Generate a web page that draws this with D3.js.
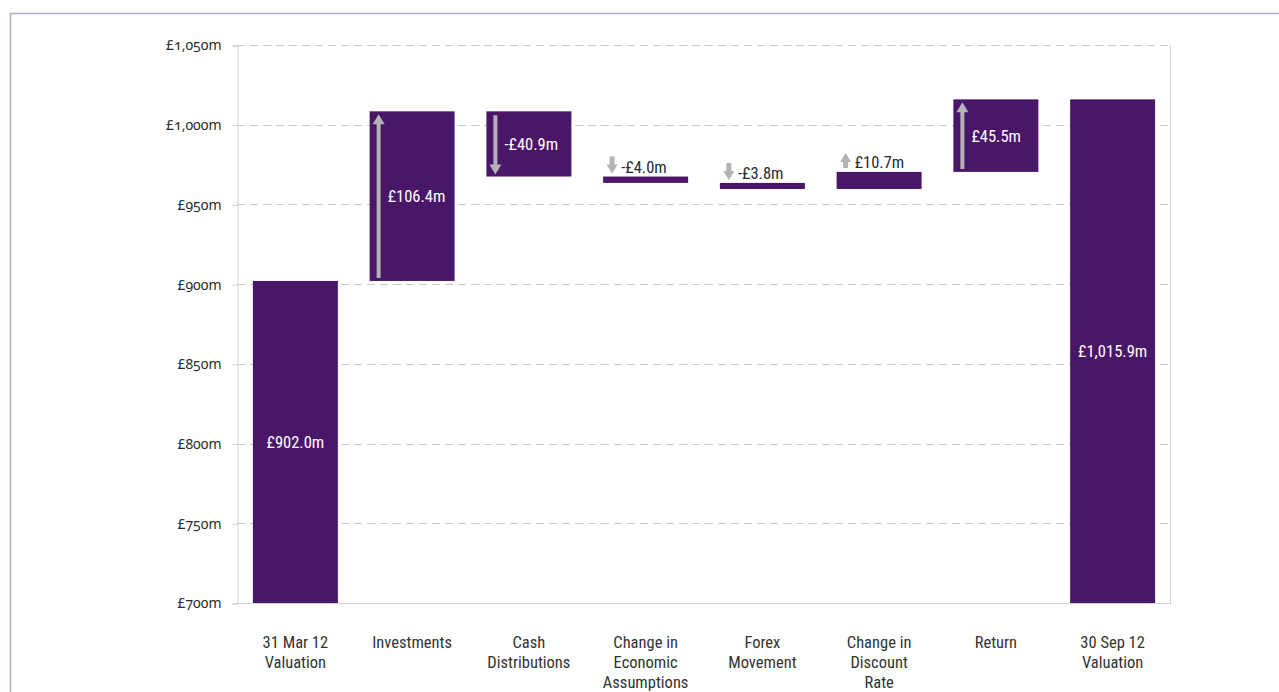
<!DOCTYPE html>
<html>
<head>
<meta charset="utf-8">
<script src="https://cdn.jsdelivr.net/npm/d3@7/dist/d3.min.js"></script>
<style>
  html, body { margin: 0; padding: 0; background: #fff; }
  svg { display: block; }
  .tick-label { font-family: "Noto Sans", sans-serif; font-size: 14px; fill: #2b2b2b; font-feature-settings: "onum" 1; }
  .cat-label { font-family: "Roboto Condensed", "Noto Sans", sans-serif; font-size: 16.5px; fill: #333; }
  .val-label { font-family: "Roboto Condensed", "Noto Sans", sans-serif; font-size: 16.5px; }
</style>
</head>
<body>
<script>
// Portfolio valuation bridge, 31 Mar 12 to 30 Sep 12 (£m)
const categories = [
  ["31 Mar 12", "Valuation"],
  ["Investments"],
  ["Cash", "Distributions"],
  ["Change in", "Economic", "Assumptions"],
  ["Forex", "Movement"],
  ["Change in", "Discount", "Rate"],
  ["Return"],
  ["30 Sep 12", "Valuation"]
];
const barTypes = ["total", "delta", "delta", "delta", "delta", "delta", "delta", "total"];
const values = [902.0, 106.4, -40.9, -4.0, -3.8, 10.7, 45.5, 1015.9];
const yTicks = [700, 750, 800, 850, 900, 950, 1000, 1050];

const W = 1279, H = 692;
const margin = { left: 237, right: 108, top: 45, bottom: 89 };
const purple = "#4a1768";
const arrowGrey = "#b3b3b5";

const svg = d3.select("body").append("svg").attr("width", W).attr("height", H);

// outer frame (top and left edges)
svg.append("line").attr("x1", 10).attr("x2", W).attr("y1", 13.5).attr("y2", 13.5)
  .attr("stroke", "#b5a6ca").attr("stroke-width", 1.5);
svg.append("line").attr("x1", 10.5).attr("x2", 10.5).attr("y1", 13).attr("y2", H)
  .attr("stroke", "#b5a6ca").attr("stroke-width", 1.5);

const x = d3.scaleBand()
  .domain(d3.range(categories.length))
  .range([margin.left, W - margin.right])
  .paddingInner(0.272).paddingOuter(0.136);

const y = d3.scaleLinear()
  .domain([yTicks[0], yTicks[yTicks.length - 1]])
  .range([H - margin.bottom, margin.top]);

const x0 = margin.left, x1 = W - margin.right;
const yb = y(yTicks[0]), yt = y(yTicks[yTicks.length - 1]);

// dashed gridlines
svg.append("g").selectAll("line").data(yTicks.slice(1)).join("line")
  .attr("x1", x0).attr("x2", x1)
  .attr("y1", d => Math.round(y(d)) + 0.5).attr("y2", d => Math.round(y(d)) + 0.5)
  .attr("stroke", "#c8c8c8").attr("stroke-dasharray", "8,5");

// y axis
const yAxis = d3.axisLeft(y).tickValues(yTicks).tickSize(5).tickPadding(11)
  .tickFormat(d => "£" + d3.format(",")(d) + "m");
const gy = svg.append("g").attr("transform", `translate(${x0 + 0.5},0.5)`).call(yAxis);
gy.select(".domain").attr("stroke", "#cfcfcf");
gy.selectAll(".tick line").attr("stroke", "#cfcfcf");
gy.selectAll(".tick text").attr("class", "tick-label").attr("fill", null);

// right and bottom frame of the plot
svg.append("line").attr("x1", x1 - 0.5).attr("x2", x1 - 0.5).attr("y1", yt).attr("y2", yb)
  .attr("stroke", "#cfcfcf");
svg.append("line").attr("x1", x0).attr("x2", x1).attr("y1", Math.round(yb) + 0.5).attr("y2", Math.round(yb) + 0.5)
  .attr("stroke", "#cfcfcf");

// waterfall geometry
let running = 0;
const bars = values.map((v, i) => {
  let lo, hi;
  if (barTypes[i] === "total") {
    lo = yTicks[0]; hi = v; running = v;
  } else {
    const start = running; running += v;
    lo = Math.min(start, running); hi = Math.max(start, running);
  }
  return { i, v, type: barTypes[i], lo, hi };
});

svg.append("g").selectAll("rect").data(bars).join("rect")
  .attr("x", d => x(d.i)).attr("width", x.bandwidth())
  .attr("y", d => y(d.hi)).attr("height", d => y(d.lo) - y(d.hi))
  .attr("fill", purple);

const fmtMoney = v => (v < 0 ? "-" : "") + "£" + d3.format(",.1f")(Math.abs(v)) + "m";

// arrow polygon from tail to tip
function arrowPath(cx, yTail, yTip, shaftW, headW, headL) {
  const dir = yTip < yTail ? -1 : 1;
  const yNeck = yTip - dir * headL;
  return d3.line()([
    [cx - shaftW / 2, yTail], [cx - shaftW / 2, yNeck], [cx - headW / 2, yNeck],
    [cx, yTip], [cx + headW / 2, yNeck], [cx + shaftW / 2, yNeck], [cx + shaftW / 2, yTail]
  ]) + "Z";
}

const ann = svg.append("g");
bars.forEach(d => {
  const bx = x(d.i), bw = x.bandwidth();
  const top = y(d.hi), bot = y(d.lo);
  if (d.type === "total") {
    ann.append("text").attr("class", "val-label").attr("fill", "#fff")
      .attr("x", bx + bw / 2).attr("y", (top + bot) / 2 + 6)
      .attr("text-anchor", "middle").text(fmtMoney(d.v));
    return;
  }
  const ax = bx + 9;
  if (Math.abs(d.v) >= 15) {
    const up = d.v > 0;
    ann.append("path").attr("fill", arrowGrey)
      .attr("d", up ? arrowPath(ax, bot - 3, top + 3, 4, 12, 10)
                    : arrowPath(ax, top + 4, bot - 2, 4, 12, 10));
    ann.append("text").attr("class", "val-label").attr("fill", "#fff")
      .attr("x", bx + 18).attr("y", (top + bot) / 2 + 6)
      .text(fmtMoney(d.v));
  } else {
    const up = d.v > 0;
    ann.append("path").attr("fill", arrowGrey)
      .attr("d", up ? arrowPath(ax, top - 4, top - 19, 5, 11, 9)
                    : arrowPath(ax, top - 20, top - 3, 5, 11, 9));
    ann.append("text").attr("class", "val-label").attr("fill", "#2b2b2b")
      .attr("x", bx + 18).attr("y", top - 4)
      .text(fmtMoney(d.v));
  }
});

// category labels
const gx = svg.append("g");
categories.forEach((lines, i) => {
  const cx = x(i) + x.bandwidth() / 2;
  const t = gx.append("text").attr("class", "cat-label").attr("text-anchor", "middle")
    .attr("x", cx).attr("y", 648);
  lines.forEach((ln, k) => {
    t.append("tspan").attr("x", cx).attr("dy", k === 0 ? 0 : 20).text(ln);
  });
});
</script>
</body>
</html>
